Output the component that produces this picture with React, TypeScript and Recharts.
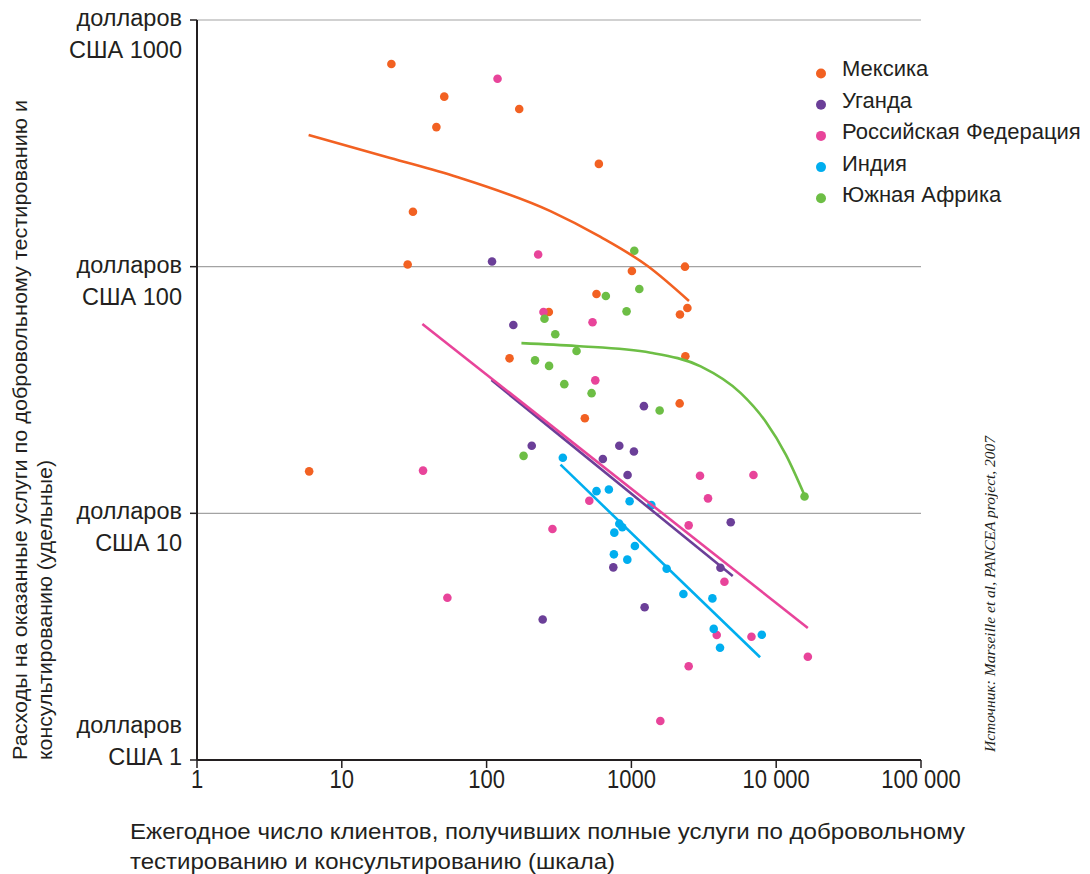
import { ScatterChart, Scatter, XAxis, YAxis, CartesianGrid, Legend } from "recharts";

// [clients per year, cost per client in USD]
const mexico = [
  [22, 663], [51, 489], [168, 436], [45, 368], [596, 261], [31, 167], [28.5, 102],
  [1008, 96], [2344, 100], [574, 77.5], [269, 65.5], [2164, 64], [2436, 68],
  [144, 42.5], [2359, 43.3], [2154, 27.9], [477, 24.3], [5.95, 14.8],
];
const uganda = [
  [109, 105], [153, 58], [1220, 27.2], [205, 18.8], [825, 18.8], [1041, 17.8],
  [635, 16.6], [941, 14.3], [4853, 9.2], [750, 6.04], [4120, 6.02], [1234, 4.16], [244, 3.71],
];
const russia = [
  [119, 578], [227, 112], [247, 65.5], [539, 59.5], [563, 34.6], [36.4, 14.9],
  [2977, 14.2], [6966, 14.3], [3381, 11.5], [512, 11.25], [2486, 8.94], [285, 8.64],
  [4390, 5.28], [53.6, 4.55], [3884, 3.21], [6748, 3.16], [16540, 2.62], [2486, 2.4], [1584, 1.44],
];
const india = [
  [336, 16.8], [574, 12.3], [699, 12.5], [972, 11.2], [1373, 10.8], [825, 9.08],
  [865, 8.78], [762, 8.35], [1057, 7.37], [757, 6.82], [937, 6.49], [1752, 5.96],
  [2286, 4.71], [3627, 4.52], [3703, 3.4], [7953, 3.22], [4093, 2.85],
];
const southAfrica = [
  [1047, 116], [666, 76], [1134, 81.2], [251, 61.5], [926, 65.9], [298, 53.2],
  [418, 45.5], [216, 41.7], [270, 39.6], [344, 33.4], [531, 30.7], [1567, 26.1],
  [180, 17.1], [15690, 11.7],
];

// trend lines
const mexicoTrend = [[5.9, 342], [21.6, 276], [62.6, 231], [276, 168], [612, 132], [1294, 100.6], [2498, 72.6]];
const ugandaTrend = [[108, 34.7], [5010, 5.57]];
const russiaTrend = [[36, 58.6], [16540, 3.43]];
const indiaTrend = [[324, 15.75], [7739, 2.61]];
const southAfricaTrend = [[174, 49], [418, 47.7], [1358, 44.8], [3009, 39.4], [5691, 30.7], [8472, 23.5], [11652, 17.3], [15770, 11.76]];

const xTicks = [1, 10, 100, 1000, 10000, 100000];
const xTickLabels = ["1", "10", "100", "1000", "10 000", "100 000"];
const yTicks = [1, 10, 100, 1000];
const yTickLabels = ["США 1", "США 10", "США 100", "США 1000"];

const INK = "#231f20";

const series = [
  { name: "Мексика", color: "#f26122", points: mexico, trend: mexicoTrend, curve: "monotoneX" },
  { name: "Уганда", color: "#6b3f98", points: uganda, trend: ugandaTrend, curve: "linear" },
  { name: "Российская Федерация", color: "#e8449a", points: russia, trend: russiaTrend, curve: "linear" },
  { name: "Индия", color: "#00aeef", points: india, trend: indiaTrend, curve: "linear" },
  { name: "Южная Африка", color: "#6dbe45", points: southAfrica, trend: southAfricaTrend, curve: "monotoneX" },
];

const toXY = (arr: number[][]) => arr.map(([x, y]) => ({ x, y }));

const XTick = (props: any) => {
  const { x, payload } = props;
  const label = xTickLabels[xTicks.indexOf(payload.value)];
  return (
    <text transform={`translate(${x},788) scale(0.88,1)`} textAnchor="middle" fontSize={25} fill={INK}>
      {label}
    </text>
  );
};

const YTick = (props: any) => {
  const { y, payload } = props;
  const i = yTicks.indexOf(payload.value);
  // bottom label sits above the axis, the others hang from their gridline
  const top = payload.value === 1 ? y - 33 : y;
  return (
    <g fontSize={23.5} fill={INK} textAnchor="end">
      <text x={182} y={top + 6}>долларов</text>
      <text x={182} y={top + 38}>{yTickLabels[i]}</text>
    </g>
  );
};

const XTitle = () => (
  <g fontSize={22} fill={INK}>
    <text x={130} y={839} textLength={835} lengthAdjust="spacingAndGlyphs">
      Ежегодное число клиентов, получивших полные услуги по добровольному
    </text>
    <text x={130} y={869} textLength={485} lengthAdjust="spacingAndGlyphs">
      тестированию и консультированию (шкала)
    </text>
  </g>
);

const YTitle = () => (
  <g fontSize={21} fill={INK}>
    <text transform="translate(27,760) rotate(-90)" textLength={660} lengthAdjust="spacingAndGlyphs">
      Расходы на оказанные услуги по добровольному тестированию и
    </text>
    <text transform="translate(52,760) rotate(-90)" textLength={300} lengthAdjust="spacingAndGlyphs">
      консультированию (удельные)
    </text>
  </g>
);

const LegendBox = () => (
  <svg width={270} height={170}>
    {series.map((s, i) => (
      <g key={s.name}>
        <circle cx={11} cy={23.5 + 31.2 * i} r={5} fill={s.color} />
        <text x={32} y={26 + 31.6 * i} fontSize={22} fill={INK}>{s.name}</text>
      </g>
    ))}
  </svg>
);

export default function App() {
  return (
    <div style={{ position: "absolute", left: 0, top: 0, width: 1090, height: 874, background: "#fff", fontFamily: '"Liberation Sans", Arial, sans-serif' }}>
      <ScatterChart width={1090} height={874} margin={{ top: 20, right: 169, bottom: 0, left: 0 }}>
        <CartesianGrid vertical={false} stroke="#a3a3a3" strokeWidth={1.2} />
        <XAxis
          type="number"
          dataKey="x"
          scale="log"
          domain={[1, 100000]}
          ticks={xTicks}
          interval={0}
          allowDataOverflow
          height={114}
          axisLine={{ stroke: INK, strokeWidth: 2 }}
          tickLine={{ stroke: INK, strokeWidth: 1.5 }}
          tickSize={8}
          tick={XTick}
          label={<XTitle />}
        />
        <YAxis
          type="number"
          dataKey="y"
          scale="log"
          domain={[1, 1000]}
          ticks={yTicks}
          interval={0}
          allowDataOverflow
          width={197}
          axisLine={{ stroke: INK, strokeWidth: 2 }}
          tickLine={{ stroke: INK, strokeWidth: 1.5 }}
          tickSize={7}
          tick={YTick}
          label={<YTitle />}
        />
        <Legend
          layout="vertical"
          align="center"
          verticalAlign="middle"
          wrapperStyle={{ position: "absolute", left: 810, top: 50, width: 270, height: 170 }}
          content={() => <LegendBox />}
        />
        {series.map((s) => (
          <Scatter
            key={s.name}
            name={s.name}
            data={toXY(s.points)}
            fill={s.color}
            isAnimationActive={false}
            shape={(p: any) => <circle cx={p.cx} cy={p.cy} r={4.3} fill={s.color} />}
          />
        ))}
        {series.map((s) => (
          <Scatter
            key={s.name + "-trend"}
            name={s.name + " trend"}
            data={toXY(s.trend)}
            legendType="none"
            line={{ stroke: s.color, strokeWidth: 2.6 }}
            lineJointType={s.curve as any}
            isAnimationActive={false}
            shape={() => <g />}
          />
        ))}
      </ScatterChart>
      <div
        style={{
          position: "absolute",
          left: 981,
          top: 418,
          width: 18,
          height: 334,
          writingMode: "vertical-rl",
          transform: "rotate(180deg)",
          fontFamily: '"Liberation Serif", "DejaVu Serif", serif',
          fontStyle: "italic",
          fontSize: 15.5,
          lineHeight: "18px",
          color: INK,
          whiteSpace: "nowrap",
        }}
      >
        Источник: Marseille et al, PANCEA project, 2007
      </div>
    </div>
  );
}
